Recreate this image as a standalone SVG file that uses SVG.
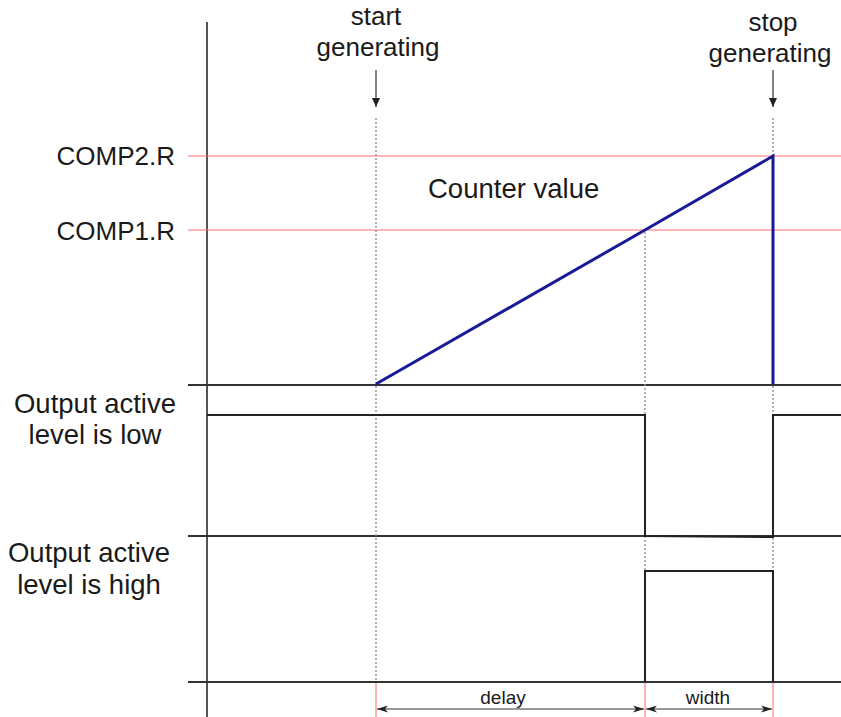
<svg xmlns="http://www.w3.org/2000/svg" width="841" height="717" viewBox="0 0 841 717">
<style>
text{font-family:"Liberation Sans",Arial,sans-serif;font-size:26px;fill:#1a1a1a}
.big{font-size:27.5px}
.base{stroke:#333;stroke-width:2;fill:none}
.axis{stroke:#555;stroke-width:2;fill:none}
.dot{stroke:#999;stroke-width:1.5;stroke-dasharray:2,2;fill:none}
.red{stroke:#ff6b6b;stroke-width:1;fill:none}
.wave{stroke:#222;stroke-width:2;fill:none}
.ramp{stroke:#1a1a99;stroke-width:3;fill:none}
.arr{stroke:#333;stroke-width:1.2;fill:none}
.dim{font-size:19px}
</style>
<defs>
<marker id="ah" markerWidth="10" markerHeight="10" refX="9" refY="5" orient="auto" markerUnits="userSpaceOnUse">
<path d="M0,1 L9,5 L0,9 Z" fill="#222"/>
</marker>
<marker id="dh" markerWidth="12" markerHeight="8" refX="11" refY="4" orient="auto-start-reverse" markerUnits="userSpaceOnUse">
<path d="M0,0.5 L11,4 L0,7.5 L3,4 Z" fill="#222"/>
</marker>
</defs>
<rect width="841" height="717" fill="#fff"/>
<g id="grid">
<line class="axis" x1="207" y1="22" x2="207" y2="717"/>
<line class="red" x1="188" y1="156" x2="841" y2="156"/>
<line class="red" x1="188" y1="230" x2="841" y2="230"/>
<line class="base" x1="188" y1="385" x2="841" y2="385"/>
<line class="base" x1="188" y1="536" x2="841" y2="536"/>
<line class="base" x1="188" y1="682" x2="841" y2="682"/>
</g>
<g id="connectors">
<line class="dot" x1="376" y1="118" x2="376" y2="682"/>
<line class="dot" x1="773" y1="118" x2="773" y2="682"/>
<line class="dot" x1="645" y1="232" x2="645" y2="682"/>
<line class="arr" x1="376" y1="70" x2="376" y2="107" marker-end="url(#ah)"/>
<line class="arr" x1="773" y1="70" x2="773" y2="107" marker-end="url(#ah)"/>
<line class="red" x1="376" y1="683" x2="376" y2="717"/>
<line class="red" x1="645" y1="683" x2="645" y2="717"/>
<line class="red" x1="773" y1="683" x2="773" y2="717"/>
<line class="arr" x1="377" y1="709" x2="644" y2="709" marker-start="url(#dh)" marker-end="url(#dh)"/>
<line class="arr" x1="646" y1="709" x2="772" y2="709" marker-start="url(#dh)" marker-end="url(#dh)"/>
</g>
<g id="counter">
<polyline class="ramp" points="376,384 645,230 773,156 773,384"/>
<text class="big" x="428" y="198">Counter value</text>
</g>
<g id="labels">
<text x="376" y="25" text-anchor="middle">start</text>
<text x="378" y="56" text-anchor="middle">generating</text>
<text x="773" y="31" text-anchor="middle">stop</text>
<text x="770" y="62" text-anchor="middle">generating</text>
<text x="175" y="165" text-anchor="end">COMP2.R</text>
<text x="175" y="240" text-anchor="end">COMP1.R</text>
</g>
<g id="out-low">
<polyline class="wave" points="207,415 645,415 645,536 773,537 773,415 841,415"/>
<text class="big" x="95" y="413" text-anchor="middle">Output active</text>
<text class="big" x="95" y="444" text-anchor="middle">level is low</text>
</g>
<g id="out-high">
<polyline class="wave" points="645,682 645,571 773,571 773,682"/>
<text class="big" x="89" y="562" text-anchor="middle">Output active</text>
<text class="big" x="89" y="594" text-anchor="middle">level is high</text>
</g>
<g id="dims">
<text class="dim" x="503" y="704" text-anchor="middle">delay</text>
<text class="dim" x="708" y="704" text-anchor="middle">width</text>
</g>
</svg>
